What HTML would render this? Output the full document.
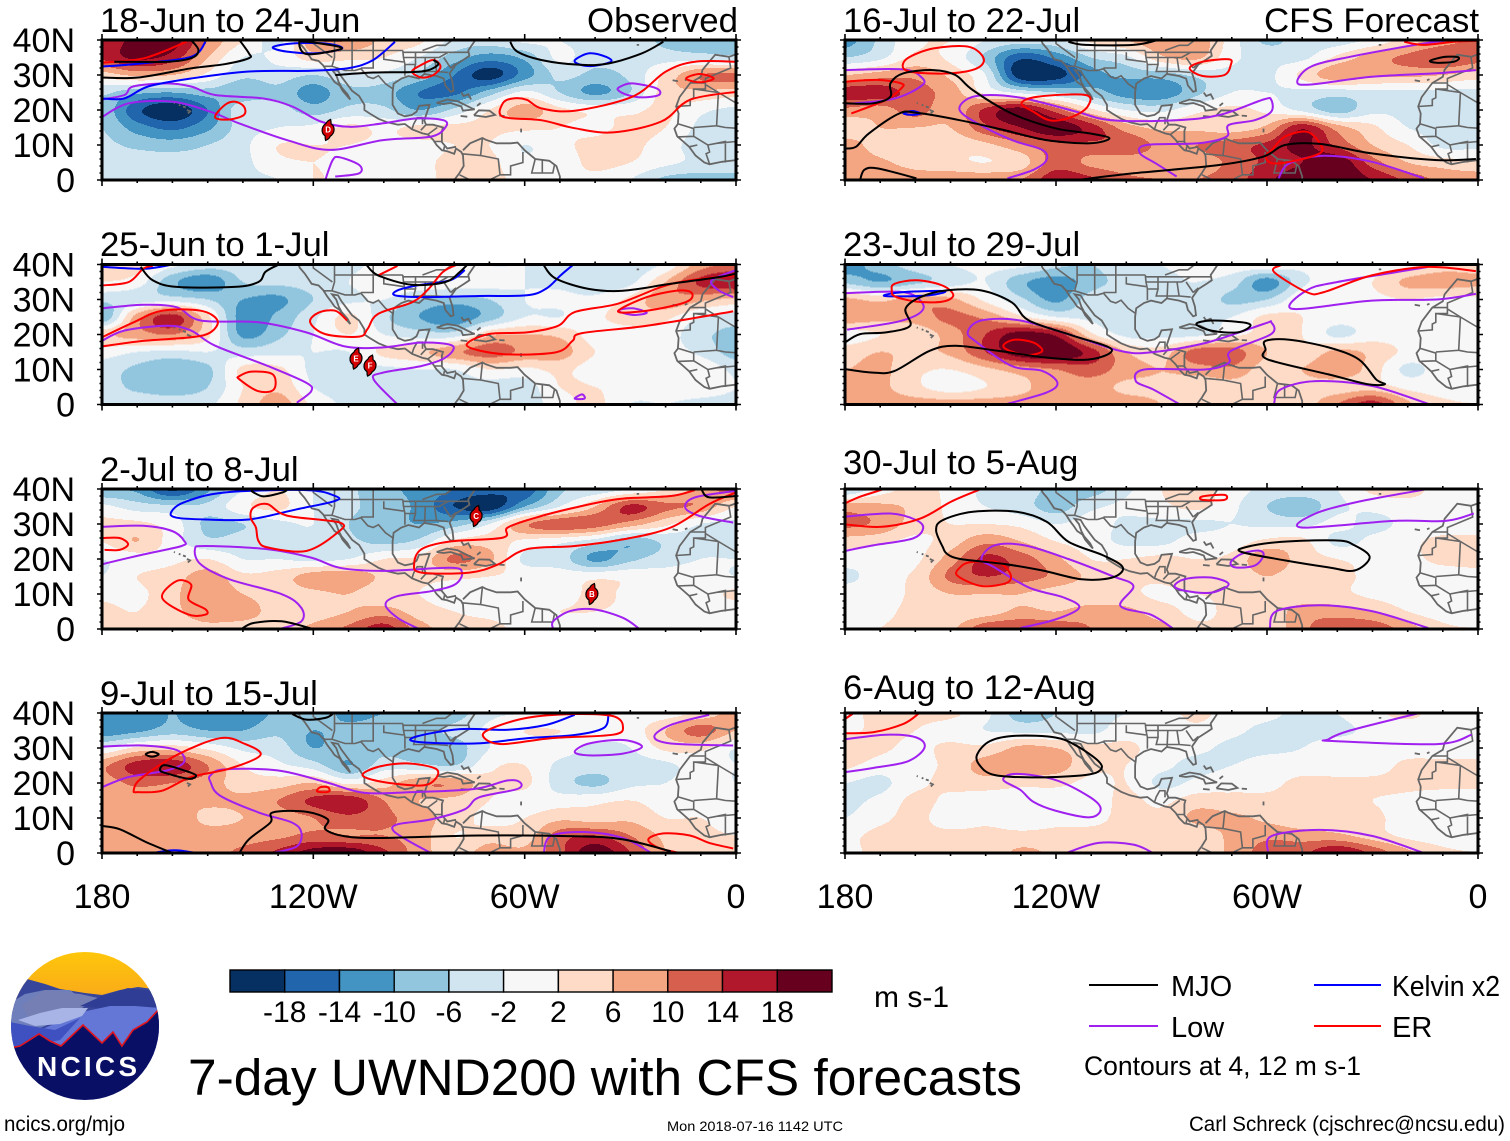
<!DOCTYPE html>
<html lang="en">
<head>
<meta charset="utf-8">
<title>7-day UWND200 with CFS forecasts</title>
<style>
html,body{margin:0;padding:0;background:#fff;}
#chart{display:block;width:1510px;height:1141px;font-family:"Liberation Sans",sans-serif;fill:#000;}
</style>
</head>
<body>
<svg id="chart" xmlns="http://www.w3.org/2000/svg" width="1510" height="1141" viewBox="0 0 1510 1141">
  <rect x="0" y="0" width="1510" height="1141" fill="#fff"/>
  <g id="panels"></g>

  <g font-size="34.7">
    <text x="100" y="32">18-Jun to 24-Jun</text>
    <text x="738" y="32" text-anchor="end" textLength="151" lengthAdjust="spacingAndGlyphs">Observed</text>
    <text x="843" y="32">16-Jul to 22-Jul</text>
    <text x="1479" y="32" text-anchor="end" textLength="215" lengthAdjust="spacingAndGlyphs">CFS Forecast</text>
    <text x="100" y="256">25-Jun to 1-Jul</text>
    <text x="843" y="256">23-Jul to 29-Jul</text>
    <text x="100" y="481">2-Jul to 8-Jul</text>
    <text x="843" y="474">30-Jul to 5-Aug</text>
    <text x="100" y="705">9-Jul to 15-Jul</text>
    <text x="843" y="699">6-Aug to 12-Aug</text>
  </g>

  <g id="colorbar"></g>
  <text x="874" y="1007" font-size="30">m s-1</text>

  <g font-size="29">
    <line x1="1089" y1="985" x2="1158" y2="985" stroke="#000" stroke-width="2"/>
    <text x="1171" y="996">MJO</text>
    <line x1="1314" y1="985" x2="1381" y2="985" stroke="#0000ff" stroke-width="2"/>
    <text x="1392" y="996" textLength="108" lengthAdjust="spacingAndGlyphs">Kelvin x2</text>
    <line x1="1089" y1="1026" x2="1158" y2="1026" stroke="#a020f0" stroke-width="2"/>
    <text x="1171" y="1037">Low</text>
    <line x1="1314" y1="1026" x2="1381" y2="1026" stroke="#ff0000" stroke-width="2"/>
    <text x="1392" y="1037">ER</text>
    <text x="1084" y="1075" font-size="27" textLength="277" lengthAdjust="spacingAndGlyphs">Contours at 4, 12 m s-1</text>
  </g>

  <text x="188" y="1095" font-size="51.4" textLength="834" lengthAdjust="spacingAndGlyphs">7-day UWND200 with CFS forecasts</text>
  <a><text x="4" y="1131" font-size="21" textLength="121" lengthAdjust="spacingAndGlyphs">ncics.org/mjo</text></a>
  <text x="667" y="1131" font-size="14" textLength="176" lengthAdjust="spacingAndGlyphs">Mon 2018-07-16 1142 UTC</text>
  <text x="1189" y="1131" font-size="21" textLength="316" lengthAdjust="spacingAndGlyphs">Carl Schreck (cjschrec@ncsu.edu)</text>

  <g>
    <defs>
      <clipPath id="logoClip"><circle cx="85" cy="1026" r="74"/></clipPath>
      <linearGradient id="logoSky" x1="0" y1="0" x2="0" y2="1"><stop offset="0" stop-color="#ffc80a"/><stop offset="1" stop-color="#f9a81a"/></linearGradient>
    </defs>
    <g clip-path="url(#logoClip)">
      <rect x="10" y="950" width="150" height="50" fill="url(#logoSky)"/>
      <polygon fill="#37469b" points="10,985 27,979 45,984 60,989 85,993 102,995 120,990 138,987 160,990 160,1060 10,1060"/>
      <polygon fill="#6f7fbb" points="10,1003 25,994 45,990 70,990 85,1002 80,1012 40,1028 10,1045"/>
      <polygon fill="#757fb3" points="45,990 80,994 98,998 82,1008 60,1012 30,1020 22,1005"/>
      <polygon fill="#2f3d94" points="80,1006 102,996 128,988 160,992 160,1010 120,1006 100,1008"/>
      <polygon fill="#6476d6" points="82,1012 110,1006 135,1006 160,1008 160,1060 12,1060 12,1030 40,1030"/>
      <polygon fill="#a9b4e6" points="18,1020 40,1013 62,1008 88,1008 82,1016 60,1024 35,1026"/>
      <polygon fill="#3f50c0" points="10,1022 30,1026 55,1030 80,1018 60,1040 14,1050"/>
      <polygon fill="#0a0f66" stroke="#e2141e" stroke-width="1.6" points="10,1048 20,1046 39,1034 50,1041 61,1046 83,1025 102,1043 113,1032 122,1046 133,1030 147,1022 160,1008 162,1104 8,1104"/>
    </g>
    <text x="37" y="1076" font-size="28" font-weight="bold" fill="#fff" textLength="100" lengthAdjust="spacing">NCICS</text>
  </g>
</svg>

<script>
/* ---------- Axis data ---------- */
const lonMajorTicks = [180, 120, 60, 0];
const lonTickLabels = ['180', '120W', '60W', '0'];
const latMajorTicks = [40, 30, 20, 10, 0];
const latTickLabels = ['40N', '30N', '20N', '10N', '0'];
const colorLevels = [-18, -14, -10, -6, -2, 2, 6, 10, 14, 18];
const colorBands = ['#053061', '#2166ac', '#4393c3', '#92c5de', '#d1e5f0', '#f7f7f7', '#fddbc7', '#f4a582', '#d6604d', '#b2182b', '#67001f'];

/* ---------- 200 hPa zonal wind anomaly (m/s): rows 40N..0 every 5 deg, columns 180..0 every 10 deg ---------- */
const uwndJun18 = [
[14,20,20,10,2,-3,9,10,5,3,-3,-4,-1,-2,-4,-4,-7,-9,-8],
[15,19,16,6,-2,-1,4,3,2,-2,-8,-12,-9,-1,-5,-4,-4,-4,-5],
[4,7,6,1,-5,-4,-6,-3,-3,-7,-14,-20,-12,-5,-7,-5,3,10,11],
[-5,-9,-10,-8,-9,-7,-12,-7,-8,-14,-15,-8,-1,-6,-11,-6,4,5,4],
[-7,-17,-21,-14,-3,-4,-8,-5,-5,-10,-5,2,8,3,1,1,3,-1,-3],
[-6,-12,-15,-11,-4,-2,-1,3,1,3,3,3,3,2,1,3,2,-3,-4],
[-5,-7,-8,-6,-3,2,2,2,1,1,2,2,-2,1,3,3,0,-4,-4],
[-4,-4,-4,-4,-3,1,2,1,0,1,3,3,-1,0,3,2,-1,-3,-3],
[-4,-4,-4,-4,-3,-2,2,1,1,1,3,3,1,1,1,-2,-7,-8,-8]];
const uwndJun25 = [
[4,4,-1,-4,-4,-3,-3,-3,-1,-2,1,-2,-2,-4,-6,-5,-1,8,11],
[2,0,-9,-13,-6,-5,-4,-2,1,1,1,0,-2,-3,-5,-3,6,15,18],
[-5,-4,-4,-6,-10,-11,-6,-3,-2,-6,-8,-6,-2,-1,-1,3,9,7,5],
[-10,8,16,3,-12,-9,-3,3,-5,-10,-13,-8,-2,-2,1,4,3,-2,-4],
[5,8,10,3,-11,-7,-2,2,-2,-4,-4,5,6,5,0,0,0,-5,-7],
[0,-2,-3,-2,-4,-3,-2,-2,3,5,9,12,9,8,2,0,0,-3,-8],
[-4,-7,-9,-7,3,3,-3,-3,-3,-2,-2,2,1,3,0,0,1,1,-3],
[-4,-7,-8,-6,2,5,-2,-4,-4,-4,-3,-4,-4,2,2,0,0,0,-2],
[-3,-3,-4,-3,3,8,1,-3,-4,-4,-3,-4,-4,0,3,-2,-2,-3,-3]];
const uwndJul02 = [
[-10,-11,-19,-11,-2,2,-2,-5,-9,-11,-14,-16,-17,-7,-5,-2,2,8,12],
[-1,-4,-5,-5,1,3,-2,-5,-8,-11,-18,-21,-10,-2,6,15,11,9,2],
[3,3,0,-7,-6,-3,-2,-6,-8,-10,-8,-2,9,13,12,8,3,-2,-3],
[2,6,0,-5,-4,-3,-3,-5,-7,-5,3,4,1,-1,-4,-9,-5,-3,-5],
[-2,0,1,2,-2,-2,-3,-2,2,3,11,7,-3,-4,-11,-7,-4,-2,-2],
[-2,2,4,8,3,4,8,9,5,3,3,2,1,0,1,1,0,0,-2],
[1,1,5,9,6,4,5,6,3,2,0,-1,0,0,3,1,0,0,3],
[3,2,5,8,8,4,4,6,8,4,2,1,1,2,2,1,0,0,-1],
[3,3,4,5,4,4,7,11,16,8,4,3,1,0,0,0,0,0,0]];
const uwndJul09 = [
[-13,-13,-10,-13,-13,-9,-6,-12,-10,-10,-8,-3,-2,-1,0,0,0,3,8],
[-13,-11,-8,-10,-10,-7,-10,-8,-7,-7,-5,-1,2,2,1,0,6,12,6],
[-2,3,4,1,-3,-4,-10,-7,-7,-8,-8,-2,0,0,-3,-2,3,3,-2],
[9,16,17,10,2,-1,-4,-10,-4,-5,-6,1,2,-3,-4,-4,-3,0,-2],
[8,11,10,8,4,4,6,1,4,9,9,3,3,-4,-7,-3,-2,0,-2],
[7,7,7,7,7,10,15,17,10,6,5,2,0,0,1,2,0,0,0],
[8,8,9,5,6,8,10,13,11,8,4,1,2,5,4,5,2,2,0],
[8,8,8,8,8,9,11,10,10,8,2,4,4,12,14,10,5,3,2],
[8,9,9,9,11,15,20,21,15,8,4,8,7,13,21,14,6,4,3]];
const uwndJul16 = [
[-12,-5,1,2,-2,-4,-3,3,6,9,9,0,-7,-4,-4,-1,4,8,11],
[-6,-3,3,1,-7,-17,-13,-6,-3,5,7,-1,-3,-3,3,8,11,14,12],
[6,8,9,5,-2,-21,-20,-12,-9,-8,-5,-3,-3,3,9,7,7,6,4],
[16,16,12,8,1,-3,-6,-8,-12,-13,-7,-2,-2,-3,-4,-3,-3,-3,-3],
[9,8,12,7,15,20,12,3,-2,-3,1,3,1,-3,-8,-3,-3,-3,-3],
[3,6,6,6,13,18,21,16,8,5,5,4,7,17,8,3,-2,-3,-3],
[8,4,3,3,5,9,13,13,13,9,10,12,15,19,13,6,2,-3,-3],
[9,7,4,3,2,4,12,9,8,8,8,11,15,18,21,12,6,4,3],
[10,10,9,9,9,10,17,15,11,10,10,12,17,21,21,18,13,9,8]];
const uwndJul23 = [
[-12,-8,-4,-2,-1,-1,-5,-6,-3,-2,-1,0,1,-1,0,0,1,4,4],
[-7,-10,-7,-4,-2,-9,-12,-8,-4,-3,-2,-4,-12,-3,0,2,7,8,7],
[7,5,8,7,1,-5,-11,-4,-3,-3,-3,-7,-6,1,1,1,2,1,1],
[9,7,8,11,9,3,-2,-3,-4,-4,-3,-2,3,2,0,0,0,0,-2],
[0,2,3,8,14,20,17,3,-3,-3,-3,1,3,2,-3,0,0,0,0],
[4,6,5,7,14,21,22,16,6,4,12,12,6,3,7,5,1,0,0],
[6,7,3,2,5,8,10,12,8,6,8,9,4,6,9,4,-3,0,0],
[8,7,3,0,2,5,8,8,5,5,3,4,3,4,4,4,1,0,0],
[8,8,8,8,8,8,9,9,8,6,6,5,4,4,10,16,7,3,2]];
const uwndJul30 = [
[-6,0,3,1,-3,-3,-8,-8,-3,2,4,0,-3,-3,-2,3,4,0,0],
[8,7,5,1,-2,-4,-8,-3,-1,1,3,-1,-6,-9,-3,-1,0,0,0],
[11,9,4,2,2,1,-2,0,-3,-3,-3,-2,-3,-3,-1,-3,-1,0,0],
[4,3,1,4,9,6,2,0,-3,-3,0,0,3,3,-3,-1,1,3,3],
[0,-1,1,8,15,12,7,2,2,3,2,3,9,4,2,1,1,3,3],
[-3,0,3,11,14,12,9,5,3,3,6,3,6,3,3,1,0,0,1],
[0,0,3,6,6,6,4,3,3,1,2,3,3,3,3,1,0,0,0],
[0,1,3,3,4,7,6,8,7,4,1,3,3,8,8,6,2,0,0],
[0,2,3,5,13,14,13,10,8,7,3,3,3,9,13,13,8,3,2]];
const uwndAug06 = [
[1,3,3,3,-1,-8,-6,-3,-2,0,3,0,-1,-3,-2,1,3,0,0],
[1,3,2,0,-2,-3,-3,-3,0,0,1,-1,-3,-3,-3,-1,0,0,0],
[6,3,1,3,3,7,6,3,3,0,-1,-3,-3,-2,0,0,0,0,0],
[3,0,1,3,8,9,8,3,2,-1,-3,-2,0,0,0,0,3,3,3],
[-2,-3,1,3,4,3,3,1,2,-3,-1,1,1,3,3,3,3,3,3],
[-3,-1,3,1,0,0,0,0,3,1,4,3,3,3,3,2,1,0,0],
[-2,1,3,0,1,0,1,1,3,3,7,7,5,3,3,3,0,0,0],
[1,3,3,3,3,3,3,3,3,3,3,7,9,8,7,4,1,0,0],
[1,3,3,3,3,7,5,3,3,3,3,7,12,13,18,13,7,3,2]];

/* ---------- Filtered-wave contours ([lon W, lat N]) ---------- */
const mjoJun18 = [
[[180,29.3],[169.7,29.3],[154.7,31.9],[145.2,33.1],[138.3,34.8],[138.3,36.2],[141,40]],
[[176.5,33.8],[161.5,33.8],[154.7,34.8],[152.6,37.1],[154.7,40]],
[[124,39],[122,36],[113.8,37],[112.5,38],[122,39.5],[124,39]],
[[113.8,30],[103,30.7],[89.3,31],[84.6,32.9],[85.9,34.3]],
[[64.1,39.5],[62.1,36.7],[55.3,34.3],[44.4,32.9],[36.2,33.3],[26.7,36.2],[20.6,39.5]]];
const kelvinJun18 = [
[[180,32.4],[169,33.3],[154.7,35.2],[150.6,39.5]],
[[131.5,37.9],[126,39],[116.6,39],[111.8,37.6],[119.3,36.2],[127.5,36.7],[131.5,37.9]],
[[180,23.3],[173.7,23.3],[166.9,26.7],[154.7,29],[138.3,31],[120.6,31.2],[109.8,32],[103,34.3],[96.8,39.5]],
[[45.7,34.3],[41.6,36.2],[36.9,35.2],[35.5,33.8],[40.3,32.6],[44.4,33],[45.7,34.3]]];
const lowJun18 = [
[[180,23],[173.6,24.3],[171.2,26.7],[161.6,27.6],[154.7,26.7],[147.9,24.3],[134.2,23.3],[126,21],[117.9,16.7],[109.8,15.2],[100.2,16.2],[90.6,17.6],[83.1,17.1],[82.4,15.2],[86.6,12.4],[100.2,11.4],[115.2,8.6],[127.5,11.4],[141.1,16.2],[149.2,19.5],[160.1,22.4],[172.4,21.9],[180,18]],
[[116.6,0],[114.5,5.7],[112.5,6.5],[107,4.3],[107,1.9],[113.8,1]],
[[32.8,26.7],[29.4,27.6],[22.6,26.2],[21.9,24.3],[26.7,23.6],[30.8,24.3],[33.5,25.7],[32.8,26.7]]];
const erJun18 = [
[[180,33.5],[168,34.8],[156,39.5]],
[[147.9,17.9],[145.2,21.4],[142.4,22.4],[139.7,21],[139.7,18.6],[143.8,17.3],[147.9,17.9]],
[[92,31],[89.3,32.9],[85.9,34.3],[83.9,32.4],[85.9,30],[89.3,29.3],[92,31]],
[[0,33.8],[11.7,33.8],[19.9,31],[29.4,23.8],[45.8,19.8],[55.3,20.5],[59.4,22.9],[63.4,23.3],[66.2,21.9],[66.2,18.1],[55.3,17.1],[45.8,14.8],[34.9,13.6],[21.2,16.7],[13.1,22.9],[0,25.2]],
[[14.2,29],[10.3,30.3],[6.3,29],[10.3,27.9],[14.2,29]]];

const mjoJun25 = [
[[169,39.3],[165.6,35.5],[158.8,33.6],[142.4,33.6],[135.6,35],[133.6,37.9],[130.2,39.8]],
[[105,40],[101.6,36.9],[92,34.2],[82.5,35],[78.4,37.9],[76.4,39.8]],
[[54.6,39.8],[51.2,36],[41.7,33],[32.1,32.5],[18.5,34.5],[4.9,36.4],[0,37.4]]];
const kelvinJun25 = [
[[180,39.3],[168,38.8],[160,40]],
[[77,38.4],[81.2,35.5],[90.7,34],[96.1,32.6],[96.8,31.2],[89.3,30.7],[73,31],[59.4,31.2],[53.9,33.1],[49.8,36.9],[46.4,39.8]]];
const lowJun25 = [
[[180,27.5],[168.3,28.5],[158.8,27.8],[152,24],[135.6,23.5],[122,20.6],[111.1,16.6],[100.2,16.3],[89.3,17.7],[80.5,16.8],[82.5,13.4],[89.3,11],[100.2,9.1],[102.9,7.2],[96.1,0]],
[[180,18.2],[173.7,21.1],[161.5,22.5],[154.7,21.1],[147.9,16.8],[132.9,11],[122,6.2],[120.6,3.8],[124.7,0.5]],
[[33.5,26.8],[29.4,27.5],[25.3,26.2],[29.4,25.6],[33.5,26.8]],
[[0,38.4],[6.9,35.5],[4.9,32.6],[0.8,30.7]],
[[45.8,1.7],[43.7,2.9],[43,1.7],[45.8,1.7]]];
const erJun25 = [
[[180,34],[172.4,35],[168.3,38.8],[165.6,39.6]],
[[180,19.2],[171,23.5],[162.9,26.8],[152,26.8],[147.2,24],[149.2,20.6],[154.7,19.2],[168,18.2],[180,16.6]],
[[141,8.1],[137.6,9.4],[131.5,8.6],[131.2,4.3],[135.6,3.8],[141,7.2],[141,8.1]],
[[110.4,24],[113.8,26.8],[118.6,26.2],[120.9,23.5],[116.6,20.1],[107,19.4],[104.6,21.6],[101.6,25.9],[92,29.2],[87.3,33],[83.2,37.9],[79.1,40]],
[[101.6,36.9],[96.1,39.6]],
[[0,36.9],[13.1,35.5],[21.2,33.6],[33.5,28.8],[45.8,26.4],[50.5,22.5],[59.4,20.6],[70.3,20.1],[76.4,16.8],[66.2,14.4],[51.2,14.9],[46.4,18.2],[43.7,20.4],[25.3,22.5],[0.8,26.6]],
[[33.5,26.6],[25.3,30.7],[15.8,32.6],[12.4,31.6],[14.4,29.2],[25.3,26.8],[33.5,26.6]]];

const mjoJul02 = [
[[140.4,0],[137,1.7],[129,2.2],[120.2,0]],
[[137.7,39.5],[134.2,37.9],[128.8,39],[127.5,39.7]],
[[9.7,39.7],[7.6,37.6],[0,38]]];
const kelvinJul02 = [
[[160.4,33.3],[156.7,36.2],[145.2,39],[122,39.7],[113.8,38],[113.8,36.6],[124.7,34.2],[138.3,31.3],[150.6,31.3],[158.8,31.8],[160.4,33.3]]];
const lowJul02 = [
[[180,29.2],[168.3,29.5],[160.1,28],[156.7,25.2],[157.4,23.7],[168.3,21.3],[180,18.5]],
[[129.5,0],[123.4,2.2],[123.4,6],[128.8,9.9],[143.8,14.2],[152,18.5],[153.6,22.8],[150.6,23.7],[132.9,22.8],[120.6,20.4],[112.5,17.5],[100.2,16.6],[81.2,17.5],[77.8,16.1],[79.8,12.7],[86.6,10.8],[96.1,9.4],[99.5,7],[96.1,3.2],[90,0]],
[[51.9,0],[51.9,2.2],[47.1,5.1],[40.3,5.6],[32.1,3.2],[27.4,0]],
[[0,39.5],[11.7,37.6],[14.4,34.7],[10.3,32.3],[0.8,30.4]]];
const erJul02 = [
[[180,26],[175,26],[172.6,24.2],[175,22.6],[179.3,22.6]],
[[137.8,31.9],[137,34.7],[133,35.7],[127.5,32.4],[112.5,30.4],[113.2,27.5],[122,22.3],[132.9,23.3],[135.6,25.2],[136.3,29],[137.8,31.9]],
[[162.9,8.9],[158.8,13.7],[154.7,12.7],[155.4,8.4],[150.6,5.6],[150.6,4.1],[155.4,4.1],[162.9,8.9]],
[[11.7,39.7],[18.5,38],[33.5,37.1],[45.8,34.7],[56.6,31.9],[64.8,29],[66.2,26.1],[81.2,25],[89.3,22.8],[91.4,18.5],[89.3,16.1],[75.7,16.1],[67.5,18.5],[59.4,22.8],[45.8,23.7],[32.1,25.6],[18.5,29],[7.6,35.7],[0,39]]];

const mjoJul09 = [
[[126,39.7],[122,38.1],[116.6,38.6],[114.5,39.7]],
[[167.6,28.2],[165.8,28.9],[163.9,28.2],[165.8,27.5],[167.6,28.2]],
[[163.5,23.6],[162.2,25.1],[156.7,23.6],[153.3,22.2],[155.4,21.2],[161.5,22.7],[163.5,23.6]],
[[180,7.7],[175,6.8],[167,2.9],[160,0]],
[[141,0],[138.3,3.9],[132.2,8.7],[131.5,11.6],[122,11.8],[115.9,9.6],[116.6,6.8],[111.1,4.8],[100.2,4.3],[73,5],[45.8,4.8],[32.1,3.9],[18.5,0.5]]];
const kelvinJul09 = [
[[165.6,0],[159.4,0.8],[153.3,0]],
[[45.8,39.5],[53.9,36.6],[64.8,35.2],[78.4,35.4],[90.7,33.3],[90.7,31.8],[74.3,31.3],[59.4,32.8],[45.8,33.7],[37.6,35.7],[36.2,39.5]]];
const lowJul09 = [
[[180,30.4],[168.3,30.7],[158.8,29.4],[156.7,26],[161.5,23.6],[172.4,21.7],[180,18.8]],
[[131.5,0],[124.7,1.9],[123.4,5.8],[126.1,8.7],[135.6,11.6],[146.5,16.4],[149.2,20.3],[149.2,22.2],[145.2,23.9],[130.2,23.6],[116.6,20.3],[105.7,17.2],[92,17.4],[74.3,18.3],[65,20.7],[61.4,20.3],[62.1,18.3],[73,15.9],[77,12.5],[86.6,9.6],[96.1,8.2],[97.2,6.3],[92,2.9],[86.6,0]],
[[54.6,0],[52.6,4.8],[43,6],[32.1,4.3],[24,0]],
[[45.8,28.9],[41.7,31.3],[32.1,32.3],[26.7,30.4],[32.1,28.4],[41.7,27.9],[45.8,28.9]],
[[7.6,39.5],[18.5,36.6],[23.2,33.3],[18.5,31.3],[0.8,30.7]]];
const erJul09 = [
[[171,17.8],[169,21.2],[158.8,28],[146.5,32.8],[139.7,31.3],[135,28],[143.8,24.1],[154.7,21.7],[162.9,17.8],[169.7,17.4],[171,17.8]],
[[119,17.8],[118,18.8],[115.9,18.8],[115.5,17.6],[118,17.4],[119,17.8]],
[[106,22.2],[101.6,24.6],[93.4,25.6],[85.3,24.1],[85.3,21.2],[89.3,19.3],[100.2,20.3],[106,22.2]],
[[71.4,32.8],[70.3,35.2],[59.4,38.6],[45.8,39.7],[34.9,39.1],[32.1,36.2],[34.9,33.8],[52.6,32.8],[66.2,31.1],[71.4,32.8]],
[[15.8,0],[21.9,1.4],[24.9,3.9],[20.6,5.6],[13.1,5],[7.6,2.9],[0.8,1.3]]];

const mjoJul16 = [
[[116.5,39.5],[111.6,38.6],[98,38.6],[91.7,39.8]],
[[180,21.9],[172,21.9],[167.1,23.8],[167.1,27.6],[163.4,30.5],[154.8,31.4],[148.6,30],[143.7,25.7],[132.6,19],[120.3,14.8],[110.4,13.3],[104.8,11.9],[110.4,10.5],[122.7,11.4],[135,14.3],[147.4,17.1],[159.7,19.2],[164.6,19],[173.2,13.3],[176.9,9.5],[180,9]],
[[175.7,0],[174.5,2.9],[170.8,3.3],[159.7,0.5]],
[[114,0],[98,1.9],[73.4,4.3],[61,6.7],[54.9,10],[45,10.3],[30.2,7.6],[11.7,5.7],[0.6,6]],
[[13.6,34.1],[9.2,35.2],[5.5,35],[6.8,33.8],[11.7,33.5],[13.6,34.1]]];
const kelvinJul16 = [
[[163.4,19],[160.9,19.7],[158.5,19],[160.9,18.6],[163.4,19]]];
const lowJul16 = [
[[180,31.4],[163.4,31.6],[157.9,29],[158.5,26.7],[165.9,23.3],[176.9,21.9],[180,21.9]],
[[133.8,0.5],[126.4,2.9],[122.7,5.7],[123.9,8.6],[132.5,11.4],[142.4,16.2],[147.4,20],[144.9,23.3],[138.7,24.3],[128.9,23.3],[114.1,19.5],[104.2,17.1],[85.7,17.1],[73.4,18.6],[61,23],[58.8,22.9],[58.8,19.5],[63.5,17.1],[70.9,15.7],[71.5,12.4],[79.5,10.5],[94.3,10],[96.1,7.6],[91.7,4.8],[85.7,1]],
[[56.7,0.5],[53.6,4.8],[43.8,6.9],[30.2,5.2],[15.4,0.5]],
[[0,40],[9.2,39.8],[17.9,38.6],[36.4,35.2],[47.5,32.4],[51.4,28.1],[47.5,27.3],[30.2,29.5],[11.7,30.5],[0.6,31.4]]];
const erJul16 = [
[[180,28.1],[170.8,28.6],[164,27.6],[164,26.2],[168.3,22.9],[178.2,19]],
[[163.4,31.9],[162.2,34.8],[154.8,37.6],[144.9,38.1],[140.6,34.8],[142.5,31.9],[149.8,30.5],[159.7,30.7],[163.4,31.9]],
[[129.8,21.9],[125.2,23.8],[111.6,24.3],[111,21],[115.3,18.1],[121.5,17],[126.4,19.5],[129.8,21.9]],
[[82,31.9],[78.3,33.8],[70.9,34.5],[70.3,32.9],[72.1,30],[78.3,29.7],[82,31.9]],
[[21,39.5],[15.4,38.6],[6.8,39.5],[0,39.8]],
[[58.6,8.6],[54.9,12.4],[48.7,13.8],[45,10.5],[45,7.6],[53.6,5.2],[58.6,4.8],[60.4,6.7],[58.6,8.6]]];

const mjoJul23 = [
[[180,17.7],[175.7,20.1],[168.3,20.6],[161.5,22.5],[162.8,27.3],[158.5,30.7],[151.1,32.6],[141.3,32.6],[132.6,29.2],[127.7,24],[115.3,19.7],[104.2,15.8],[110.4,12.9],[122.7,13.4],[136.3,15.3],[148.6,16.8],[156,15.3],[165.9,9.6],[172,9.1],[180,10.1]],
[[80.1,23],[75.8,24],[67.2,23.5],[64.7,22.5],[68.4,20.6],[75.8,21.1],[80.1,23]],
[[60.4,18.2],[53.6,18.5],[42.5,16.3],[33.9,12.9],[29,7.2],[26.5,5.8],[31.4,5.8],[42.5,8.6],[59.8,12.9],[60.4,15.8],[60.4,18.2]]];
const kelvinJul23 = [
[[168.9,31.2],[163.4,32.1],[151.7,32.4],[156,31.2],[165.8,30.9],[168.9,31.2]]];
const lowJul23 = [
[[180,31.8],[163.4,32.1],[157.9,28.8],[159.1,25.9],[165.8,23.5],[179.4,21.4]],
[[133.8,0.2],[122.7,3.4],[119.6,6.2],[123.9,9.6],[132.6,11],[142.4,17.7],[145.1,20.6],[141.3,24],[130.1,24],[115.3,19.7],[101.7,15.3],[93.1,14.9],[77.1,17.7],[61,23],[58.8,23.5],[58.8,20.1],[70.3,15.3],[70.9,11.9],[77.7,10],[94.9,10],[97.3,6.7],[92.4,4.3],[85.1,0.2]],
[[58,0.2],[56.1,4.3],[46.2,6.7],[30.2,5.3],[14.2,0.2]],
[[14.2,39.3],[40,35],[48.7,32.6],[52.7,27.3],[30.2,29.7],[11.7,30],[0.6,31.6]]];
const erJul23 = [
[[166.7,32.6],[165.9,34.5],[159.7,35.5],[152.3,34],[149.2,31.2],[152.3,29.4],[159.7,29.4],[165.8,30.9],[166.7,32.6]],
[[135,16.8],[131.9,18.5],[126.4,17.7],[123.9,15.3],[127.7,14.1],[132.6,15.1],[135,16.8]],
[[56.1,39.8],[58,37.9],[48.7,32.1],[43.8,32.1],[30.2,36.9],[14.2,39.3],[0.6,38.1]]];

const mjoJul30 = [
[[151,21.5],[152.2,23.4],[154.1,28.2],[152.2,31.1],[143.6,33.5],[131.2,33.5],[122.6,30.6],[116.4,24.9],[106.5,21],[101,17.6],[104,14.7],[112.7,14.2],[123.8,16.7],[134.9,18.6],[147.2,20],[151,21.5]],
[[67.2,22],[66,23.4],[56.1,24.9],[40.1,25.3],[35.1,23.9],[30.8,20.5],[35.1,16.7],[42.5,17.6],[54.9,19.6],[67.2,22]]];
const kelvinJul30 = [];
const lowJul30 = [
[[180,32.1],[167.1,33],[159.7,31.1],[157.8,28.7],[160.9,25.8],[172,23.9],[180,22.3]],
[[130.1,0.3],[120.2,2.7],[113.4,6.1],[117.8,9],[127.6,11.8],[137.5,17.6],[141.2,20],[137.5,23.9],[128.9,23.9],[116.5,20],[104.2,15.2],[98,12.3],[101.7,6.6],[93.1,4.1],[86.9,0.3]],
[[86.3,12.3],[83.2,14.3],[75.8,14.7],[70.9,12.8],[75.8,10.4],[83.2,10.9],[86.3,12.3]],
[[70.3,19.1],[67.2,21.5],[62.3,22.4],[61,21],[63.5,18.1],[69,17.6],[70.3,19.1]],
[[59.2,0.3],[57.3,5.1],[45,6.8],[30.2,5.1],[14.2,0.3]],
[[15.4,39.8],[33.9,36.4],[46.2,33],[50.2,29],[24,30.9],[9.2,30.9],[1.2,33]]];
const erJul30 = [
[[180,35.9],[175.7,37.8],[169.5,39.8]],
[[180,29.9],[169.5,29.2],[158.5,31.6],[149.8,36.4],[141.8,39.8]],
[[147.3,17.6],[144.3,19.1],[136.9,19.1],[133.2,16.2],[133.8,13.3],[141.2,12.3],[148,15.2],[147.3,17.6]],
[[78.3,37.9],[72.1,38.3],[72.1,36.9],[78.3,36.9],[78.3,37.9]]];

const mjoAug06 = [
[[141.8,25.2],[142.4,28.2],[138.7,32],[131.3,33.5],[120.2,33],[114.1,30.6],[107.9,26.2],[107.3,23.8],[111.6,22.3],[125.2,21.6],[137.5,22.3],[141.8,25.2]]];
const kelvinAug06 = [];
const lowAug06 = [
[[180,32.5],[168.3,33.8],[159.7,33],[157.4,30.1],[162.1,26.2],[172,24.3],[180,23.1]],
[[135,20.9],[131.3,22.6],[120.2,20.9],[110.4,16],[107.3,12.6],[110.4,10.2],[120.2,12.1],[126.4,14.6],[130.1,18],[135,20.9]],
[[117.1,0],[107.9,2.9],[98,2.4],[92.4,0]],
[[59.8,0.5],[58.6,4.9],[45,6.6],[30.2,4.9],[15.4,0]],
[[16.6,40],[36.4,35],[42.5,32.5],[41.3,32],[11.7,31.1],[1.8,33.8]]];
const erAug06 = [
[[180,34.2],[172,34.5],[163.4,36.9],[159.1,39.8]],
[[180,38.3],[177.5,40]]];

/* ---------- Tropical cyclones ---------- */
const stormNames = { jun18: ['D'], jun25: ['E', 'F'], jul02: ['C', 'B'] };
const stormLons = { jun18: [115.8], jun25: [107.9, 103.9], jul02: [73.8, 40.9] };
const stormLats = { jun18: [14.3], jun25: [13.1, 11.1], jul02: [32.3, 10] };

/* ---------- Geography ([lon W, lat N]) ---------- */
const coastLines = [
[[124.2,40],[123.8,39],[122.5,37.5],[121.5,36],[120.5,34.5],[118.5,34],[117.2,32.7],[116,30.8],[115,29.5],[114,28],[112.5,27],[111.7,25.5],[110,23.5],[109.5,23],[110.3,24.5],[112,26.5],[112.8,28],[113.5,30],[114.7,31.5],[113,31.2],[112,29.5],[110.5,27.5],[109,25.5],[107,24],[105.5,21.5],[105.5,20],[104,19],[101.5,17.5],[99,16.5],[96,15.8],[94,16],[92,14.5],[89,13.3],[87.5,13],[86,11.5],[85,10],[83.5,8.5],[82,8.2],[80,7.5],[79.5,9],[78,8],[77.5,7],[77.3,4],[78.5,2],[80,0]],
[[79.5,9.5],[82,9],[83.5,10.8],[83.5,14],[83.2,15],[86,15.8],[88,15.8],[88.5,17],[88,18.5],[87.5,20],[87,21.5],[90,21.2],[90.7,19.5],[92,18.6],[94,18.2],[96,19],[97.5,21.5],[97.5,25],[97.2,27.5],[95,29],[93,29.7],[90,29],[88.5,30.3],[85,29.7],[83,29],[82.5,27],[81,25.2],[80.2,25.5],[80.5,28],[81.3,30.5],[79.5,33],[77,34.6],[75.7,35.5],[76,37],[75,38.5],[74,40]],
[[77.5,8.5],[75.5,10.5],[72,12],[71,11.5],[68,10.5],[64,10.5],[62,10.7],[60,8.5],[57,6],[53,5.5],[51,4],[50,1],[50,0]],
[[0,35.9],[2,35.2],[5.9,35.8],[9.5,31.5],[10,29.5],[13,27.7],[16,23.7],[17,21],[16.3,19],[16.5,16],[17.5,14.7],[16.7,12.5],[15,11],[13.3,9.5],[11.5,7],[9,5],[7.5,4.5],[4,5.2],[0,5.7]],
[[85,22],[82,23],[79,22.5],[75,20.5],[74.2,20.2],[77.5,19.8],[78,21],[81,22],[83,21.7],[85,22]],
[[74.4,18.5],[73,19.9],[70,19.8],[68.4,18.6],[71,18],[74.4,18.5]],
[[78.2,18.3],[76.3,18.1]],[[67.2,18.4],[65.7,18.3]],[[78,25],[77.3,24],[76,24.5],[75.2,23]],[[73.5,21.2],[72.5,22]],
[[61,14.7],[61,13.6]],[[155.9,20],[155,19.6],[155.6,19]],[[157,21],[156.2,20.7]],[[158.2,21.5],[157.7,21.3]],[[159.6,22],[159.3,21.9]],
[[18,28.5],[16.5,28.2]],[[14.5,28.5],[13.8,28.8]],[[28.2,38.6],[27.5,38.6]]];
const borderLines = [
[[117,32.5],[114.7,32.5],[111,31.3],[108.2,31.3],[106.5,31.8],[104.5,29.5],[103,29],[101.5,29.8],[99.5,27.5],[97.2,25.9]],
[[114,37],[94.6,37]],[[94.6,36.5],[75.9,36.5]],[[94.4,35],[84.3,35]],[[94,33],[91,33],[91.5,31],[85,31]],
[[120,40],[120,39],[114.6,35]],[[114,40],[114,35],[114.7,32.5]],[[109,40],[109,31.3]],[[103,40],[103,32],[106.5,32]],[[94.6,37],[94.4,35],[94,33],[94,29.8]],[[91,36.5],[91,33]],
[[88.4,30.3],[88.2,35]],[[85,31],[85.6,35]],[[81,32],[83,35]],[[89,37],[85,38.5],[82.5,38.5],[80.5,40]],[[84.3,35],[81.7,36.5]],[[81,32],[79.5,33.3]],[[85,31],[81.7,30.7]],[[100,36.5],[100,34.5],[94.4,33.7]],
[[92,14.5],[91.5,16],[90.5,17.8],[89,17.8],[89,15.9]],[[88,15.8],[89.5,14.2]],[[87.5,13],[84.8,15]],[[85.8,11],[83.7,11]],[[83,8.5],[82.8,9.6]],
[[77.8,7.5],[72.5,7],[72,12]],[[72.5,7],[67.5,6],[67,1.5],[70,0]],[[60.5,8],[60.5,5],[64,4],[64,1.5],[67,1.5]],[[57,6],[58,2],[56,2],[54,2],[52,2],[51.5,4.5]],[[55,5.8],[55,2]],[[78.5,1.5],[75.5,0]],
[[2,35],[1.5,32],[8.7,29],[8.7,27.7],[13,27.7]],[[8.7,27.7],[8.7,26],[12,26],[12,23.5],[13,23],[13,21.3],[17,21]],[[8.7,27.3],[5,25],[0,22]],[[5,25],[5.5,15.5],[12,15]],[[12,26],[5,25]],[[16.3,16],[12,14.7],[12,12.5],[16.7,12.3]],[[12,12.5],[8,10],[7.5,8],[8.5,7.5],[7.5,4.5]],[[11,10],[13.3,9.5]],[[5.5,15.5],[3,15],[0,14.8]],[[5.5,10.5],[3,11],[3,5]],[[5.5,10.5],[0,11],[0,6]],[[8,10],[5.5,10.5]]];

/* ---------- Layout ---------- */
const NS = 'http://www.w3.org/2000/svg';
const columnEdges = { left: [102, 736], right: [845, 1478] };
const rowEdges = [[40, 180], [264.5, 404.5], [489, 629], [713, 853]];

const panels = [
  { key: 'jun18', col: 'left', row: 0, grid: uwndJun18, mjo: mjoJun18, low: lowJun18, kelvin: kelvinJun18, er: erJun18 },
  { key: 'jun25', col: 'left', row: 1, grid: uwndJun25, mjo: mjoJun25, low: lowJun25, kelvin: kelvinJun25, er: erJun25 },
  { key: 'jul02', col: 'left', row: 2, grid: uwndJul02, mjo: mjoJul02, low: lowJul02, kelvin: kelvinJul02, er: erJul02 },
  { key: 'jul09', col: 'left', row: 3, grid: uwndJul09, mjo: mjoJul09, low: lowJul09, kelvin: kelvinJul09, er: erJul09 },
  { key: 'jul16', col: 'right', row: 0, grid: uwndJul16, mjo: mjoJul16, low: lowJul16, kelvin: kelvinJul16, er: erJul16 },
  { key: 'jul23', col: 'right', row: 1, grid: uwndJul23, mjo: mjoJul23, low: lowJul23, kelvin: kelvinJul23, er: erJul23 },
  { key: 'jul30', col: 'right', row: 2, grid: uwndJul30, mjo: mjoJul30, low: lowJul30, kelvin: kelvinJul30, er: erJul30 },
  { key: 'aug06', col: 'right', row: 3, grid: uwndAug06, mjo: mjoAug06, low: lowAug06, kelvin: kelvinAug06, er: erAug06 }
];

/* ---------- Helpers ---------- */
function svgEl(tag) { return document.createElementNS(NS, tag); }

function catmull(p0, p1, p2, p3, t) {
  return 0.5 * (2 * p1 + (p2 - p0) * t + (2 * p0 - 5 * p1 + 4 * p2 - p3) * t * t + (3 * p1 - p0 - 3 * p2 + p3) * t * t * t);
}

function sampleGrid(grid, col, row) {
  const nr = grid.length, nc = grid[0].length;
  const c1 = Math.min(Math.floor(col), nc - 2), r1 = Math.min(Math.floor(row), nr - 2);
  const tc = col - c1, tr = row - r1;
  const rowVals = [];
  for (let k = -1; k <= 2; k++) {
    const line = grid[Math.max(0, Math.min(nr - 1, r1 + k))];
    const at = i => line[Math.max(0, Math.min(nc - 1, i))];
    rowVals.push(catmull(at(c1 - 1), at(c1), at(c1 + 1), at(c1 + 2), tc));
  }
  return catmull(rowVals[0], rowVals[1], rowVals[2], rowVals[3], tr);
}

function bandIndex(v) {
  let i = 0;
  while (i < colorLevels.length && v >= colorLevels[i]) i++;
  return i;
}

function smoothPath(points, xOf, yOf) {
  const pts = points.map(p => [xOf(p[0]), yOf(p[1])]);
  const n = pts.length;
  if (n < 2) return '';
  const closed = n > 2 && points[0][0] === points[n - 1][0] && points[0][1] === points[n - 1][1];
  const at = i => {
    if (closed) return pts[((i % (n - 1)) + (n - 1)) % (n - 1)];
    return pts[Math.max(0, Math.min(n - 1, i))];
  };
  let d = 'M' + pts[0][0].toFixed(1) + ' ' + pts[0][1].toFixed(1);
  for (let i = 0; i < n - 1; i++) {
    const p0 = at(i - 1), p1 = at(i), p2 = at(i + 1), p3 = at(i + 2);
    d += 'C' + (p1[0] + (p2[0] - p0[0]) / 6).toFixed(1) + ' ' + (p1[1] + (p2[1] - p0[1]) / 6).toFixed(1) + ' ' +
         (p2[0] - (p3[0] - p1[0]) / 6).toFixed(1) + ' ' + (p2[1] - (p3[1] - p1[1]) / 6).toFixed(1) + ' ' +
         p2[0].toFixed(1) + ' ' + p2[1].toFixed(1);
  }
  return d + (closed ? 'Z' : '');
}

function linePath(lines, xOf, yOf) {
  let d = '';
  lines.forEach(line => {
    line.forEach((p, i) => {
      d += (i ? 'L' : 'M') + xOf(p[0]).toFixed(1) + ' ' + yOf(p[1]).toFixed(1);
    });
  });
  return d;
}

/* ---------- Draw panels ---------- */
const panelsRoot = document.getElementById('panels');

panels.forEach(panel => {
  const x0 = columnEdges[panel.col][0], x1 = columnEdges[panel.col][1];
  const top = rowEdges[panel.row][0], bottom = rowEdges[panel.row][1];
  const xScale = lon => x0 + (180 - lon) * (x1 - x0) / 180;
  const yScale = lat => bottom - lat * (bottom - top) / 40;
  const lonAt = x => 180 - (x - x0) * 180 / (x1 - x0);
  const latAt = y => (bottom - y) * 40 / (bottom - top);

  const g = svgEl('g');
  
  
  panelsRoot.appendChild(g);

  const clip = svgEl('clipPath');
  clip.setAttribute('id', 'clip-' + panel.key);
  const clipRect = svgEl('rect');
  clipRect.setAttribute('x', x0);
  clipRect.setAttribute('y', top);
  clipRect.setAttribute('width', x1 - x0);
  clipRect.setAttribute('height', bottom - top);
  clip.appendChild(clipRect);
  g.appendChild(clip);

  const bg = svgEl('rect');
  
  
  bg.setAttribute('x', x0);
  bg.setAttribute('y', top);
  bg.setAttribute('width', x1 - x0);
  bg.setAttribute('height', bottom - top);
  bg.setAttribute('fill', colorBands[5]);
  g.appendChild(bg);

  /* filled wind bands: sample the grid through the axis scales */
  const bandPaths = colorBands.map(() => []);
  const step = 1;
  for (let y = top; y < bottom; y += step) {
    const rowPos = (40 - latAt(y + step / 2)) / 5;
    let runStart = x0, runBand = -1;
    for (let x = x0; x <= x1; x += step) {
      let b = -2;
      if (x < x1) {
        const colPos = (180 - lonAt(x + step / 2)) / 10;
        b = bandIndex(sampleGrid(panel.grid, colPos, rowPos));
      }
      if (b !== runBand) {
        if (runBand >= 0) {
          bandPaths[runBand].push('M' + runStart + ' ' + y + 'H' + x + 'V' + (y + step) + 'H' + runStart + 'Z');
        }
        runStart = x;
        runBand = b;
      }
    }
  }
  bandPaths.forEach((parts, i) => {
    if (!parts.length || i === 5) return;
    const band = svgEl('path');
    
    
    band.setAttribute('d', parts.join(''));
    band.setAttribute('fill', colorBands[i]);
    band.setAttribute('shape-rendering', 'crispEdges');
    g.appendChild(band);
  });

  const overlay = svgEl('g');
  
  
  overlay.setAttribute('clip-path', 'url(#clip-' + panel.key + ')');
  g.appendChild(overlay);

  const borders = svgEl('path');
  
  
  borders.setAttribute('d', linePath(borderLines, xScale, yScale));
  borders.setAttribute('fill', 'none');
  borders.setAttribute('stroke', '#666');
  borders.setAttribute('stroke-width', '1.6');
  overlay.appendChild(borders);

  const coast = svgEl('path');
  
  
  coast.setAttribute('d', linePath(coastLines, xScale, yScale));
  coast.setAttribute('fill', 'none');
  coast.setAttribute('stroke', '#666');
  coast.setAttribute('stroke-width', '1.8');
  overlay.appendChild(coast);

  [['low', '#a020f0'], ['kelvin', '#0000ff'], ['er', '#ff0000'], ['mjo', '#000000']].forEach(spec => {
    panel[spec[0]].forEach(curve => {
      const line = svgEl('path');
      
      
      line.setAttribute('d', smoothPath(curve, xScale, yScale));
      line.setAttribute('fill', 'none');
      line.setAttribute('stroke', spec[1]);
      line.setAttribute('stroke-width', '2');
      overlay.appendChild(line);
    });
  });

  (stormNames[panel.key] || []).forEach((name, i) => {
    const storm = svgEl('g');
    
    
    storm.setAttribute('transform', 'translate(' + xScale(stormLons[panel.key][i]).toFixed(1) + ' ' + yScale(stormLats[panel.key][i]).toFixed(1) + ')');
    const body = svgEl('path');
    
    
    body.setAttribute('d', 'M2.5 -10.5C0 -9.5 -1.5 -8 -2 -6.5C-5 -4.5 -6 -2 -6 0.5C-6 3 -4.5 5 -3 6C-3 7.5 -3 9 -2.5 10.5C0 9.5 1.5 8 2 6.5C5 4.5 6 2 6 -0.5C6 -3 4.5 -5 3 -6C3 -7.5 3 -9 2.5 -10.5Z');
    body.setAttribute('fill', '#d40000');
    body.setAttribute('stroke', '#000');
    body.setAttribute('stroke-width', '1.2');
    storm.appendChild(body);
    const letter = svgEl('text');
    
    
    letter.setAttribute('y', '2.8');
    letter.setAttribute('text-anchor', 'middle');
    letter.setAttribute('font-size', '8');
    letter.setAttribute('font-weight', 'bold');
    letter.setAttribute('fill', '#fff');
    letter.textContent = name;
    storm.appendChild(letter);
    overlay.appendChild(storm);
  });

  /* frame + ticks */
  let ticks = '';
  for (let lon = 0; lon <= 180; lon += 10) {
    const major = lon % 60 === 0;
    const len = major ? 6 : 3;
    const x = xScale(lon).toFixed(1);
    ticks += 'M' + x + ' ' + top + 'v' + (-len) + 'M' + x + ' ' + bottom + 'v' + len;
  }
  for (let lat = 0; lat <= 40; lat += 2) {
    const major = lat % 10 === 0;
    const len = major ? 5 : 2.5;
    const y = yScale(lat).toFixed(1);
    ticks += 'M' + x0 + ' ' + y + 'h' + (-len) + 'M' + x1 + ' ' + y + 'h' + len;
  }
  const tickPath = svgEl('path');
  
  
  tickPath.setAttribute('d', ticks);
  tickPath.setAttribute('stroke', '#000');
  tickPath.setAttribute('stroke-width', '1.6');
  tickPath.setAttribute('fill', 'none');
  g.appendChild(tickPath);

  const frame = svgEl('rect');
  
  
  frame.setAttribute('x', x0);
  frame.setAttribute('y', top);
  frame.setAttribute('width', x1 - x0);
  frame.setAttribute('height', bottom - top);
  frame.setAttribute('fill', 'none');
  frame.setAttribute('stroke', '#000');
  frame.setAttribute('stroke-width', '3');
  g.appendChild(frame);

  if (panel.col === 'left') {
    latMajorTicks.forEach((lat, i) => {
      const label = svgEl('text');
      
      
      label.setAttribute('x', '75');
      label.setAttribute('y', (yScale(lat) + 12).toFixed(1));
      label.setAttribute('text-anchor', 'end');
      label.setAttribute('font-size', '34');
      label.textContent = latTickLabels[i];
      g.appendChild(label);
    });
  }
  if (panel.row === 3) {
    lonMajorTicks.forEach((lon, i) => {
      const label = svgEl('text');
      
      
      label.setAttribute('x', xScale(lon).toFixed(1));
      label.setAttribute('y', '908');
      label.setAttribute('text-anchor', 'middle');
      label.setAttribute('font-size', '34');
      label.textContent = lonTickLabels[i];
      g.appendChild(label);
    });
  }
});

/* ---------- Colorbar ---------- */
const cbRoot = document.getElementById('colorbar');
const cbLeft = 230, cbRight = 832, cbTop = 970, cbBottom = 992;
const cbStep = (cbRight - cbLeft) / colorBands.length;
colorBands.forEach((color, i) => {
  const box = svgEl('rect');
  
  
  box.setAttribute('x', (cbLeft + i * cbStep).toFixed(1));
  box.setAttribute('y', cbTop);
  box.setAttribute('width', cbStep.toFixed(1));
  box.setAttribute('height', cbBottom - cbTop);
  box.setAttribute('fill', color);
  box.setAttribute('stroke', '#000');
  box.setAttribute('stroke-width', '1.4');
  cbRoot.appendChild(box);
});
colorLevels.forEach((level, i) => {
  const label = svgEl('text');
  
  
  label.setAttribute('x', (cbLeft + (i + 1) * cbStep).toFixed(1));
  label.setAttribute('y', '1022');
  label.setAttribute('text-anchor', 'middle');
  label.setAttribute('font-size', '30');
  label.textContent = String(level);
  cbRoot.appendChild(label);
});
</script>
</body>
</html>
